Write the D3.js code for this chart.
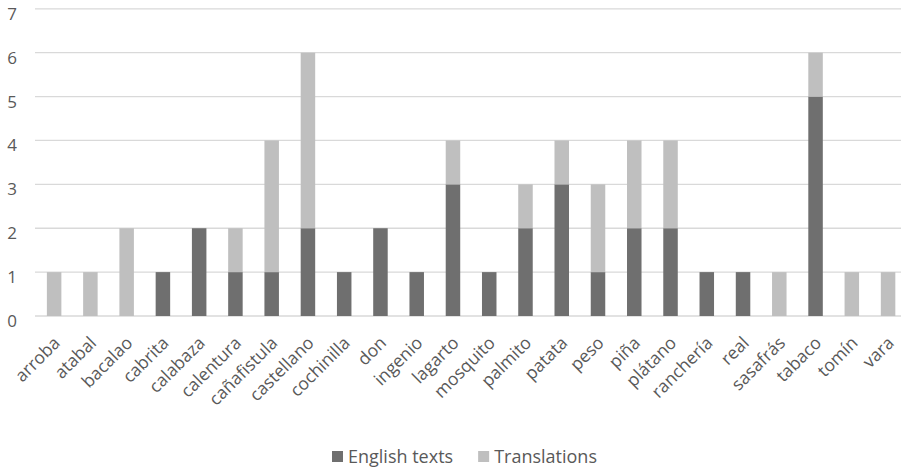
<!DOCTYPE html>
<html><head><meta charset="utf-8">
<script src="https://cdn.jsdelivr.net/npm/d3@7"></script>
<style>body{margin:0;background:#fff;} svg{display:block;font-family:"Open Sans",sans-serif;}</style>
</head><body><svg id="c" width="901" height="471"></svg>
<script>
const categories = ["arroba","atabal","bacalao","cabrita","calabaza","calentura","cañafistula","castellano","cochinilla","don","ingenio","lagarto","mosquito","palmito","patata","peso","piña","plátano","ranchería","real","sasafrás","tabaco","tomín","vara"];
const englishTexts = [0,0,0,1,2,1,1,2,1,2,1,3,1,2,3,1,2,2,1,1,0,5,0,0];
const translations = [1,1,2,0,0,1,3,4,0,0,0,1,0,1,1,2,2,2,0,0,1,1,1,1];
const seriesNames = ["English texts","Translations"];
const yTicks = [0,1,2,3,4,5,6,7];
const colors = ["#6f6f6f","#bfbfbf"];

const svg = d3.select("#c");
const x = d3.scaleBand().domain(categories).range([36, 906.2]).paddingInner(0.6).paddingOuter(0.3);
const y = d3.scaleLinear().domain([0,7]).range([316, 8.8]);

// gridlines
svg.append("g").selectAll("line").data(yTicks).join("line")
  .attr("x1",35).attr("x2",901)
  .attr("y1",d=>y(d)).attr("y2",d=>y(d))
  .attr("stroke","#d9d9d9").attr("stroke-width",1.3);

// y labels
svg.append("g").selectAll("text").data(yTicks).join("text")
  .attr("x",17).attr("y",d=>y(d)+11)
  .attr("text-anchor","end").attr("font-size",17).attr("fill","#595959")
  .text(d=>d);

const rows = categories.map((c,i)=>({c, e:englishTexts[i], t:translations[i]}));
const stack = d3.stack().keys(["e","t"])(rows);
svg.append("g").selectAll("g").data(stack).join("g")
  .attr("fill",(d,i)=>colors[i])
  .selectAll("rect").data(d=>d).join("rect")
  .attr("x",d=>x(d.data.c)).attr("width",x.bandwidth())
  .attr("y",d=>y(d[1])).attr("height",d=>y(d[0])-y(d[1]));

// x labels
svg.append("g").selectAll("text").data(categories).join("text")
  .attr("transform",d=>`translate(${x(d)+x.bandwidth()/2+7},${344}) rotate(-45)`)
  .attr("text-anchor","end").attr("font-size",17.5).attr("fill","#595959")
  .text(d=>d);

// legend
const lg = svg.append("g");
let lx = 332;
seriesNames.forEach((n,i)=>{
  lg.append("rect").attr("x",lx).attr("y",451).attr("width",11).attr("height",11).attr("fill",colors[i]);
  const t = lg.append("text").attr("x",lx+16).attr("y",463).attr("font-size",18).attr("fill","#595959").text(n);
  lx += 16 + t.node().getComputedTextLength() + 25;
});
</script></body></html>
